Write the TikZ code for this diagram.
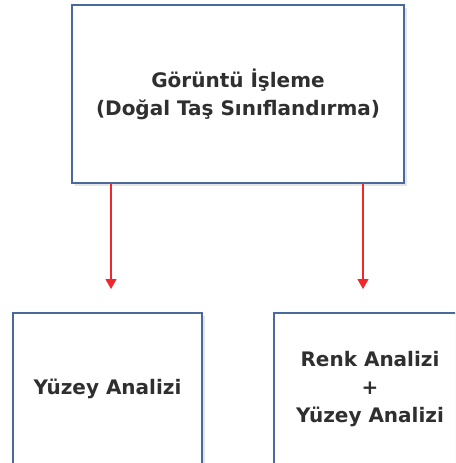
\documentclass[tikz,border=0pt]{standalone}
\usepackage{fontspec}
\setmainfont{DejaVu Sans}
\usetikzlibrary{arrows.meta}
\definecolor{boxblue}{HTML}{4A6A9C}
\definecolor{txt}{HTML}{2F2F2F}
\definecolor{arr}{HTML}{F0282D}
\tikzset{
  box/.style={draw=boxblue, line width=1.4pt, fill=white, inner sep=0pt,
    text=txt, font=\bfseries\fontsize{20}{28}\selectfont, align=center},
  conn/.style={draw=arr, line width=1.2pt, -{Triangle[width=11pt,length=10pt]}}
}
\begin{document}
\begin{tikzpicture}[x=1pt,y=-1pt]
\useasboundingbox (0,0) rectangle (455,463);
\clip (0,0) rectangle (455,463);
\fill[black!10] (75,8) rectangle (407,186);
\node[box, minimum width=332pt, minimum height=178pt] (top) at (238,94)
  {Görüntü İşleme\\(Doğal Taş Sınıflandırma)};
\fill[black!10] (16,316) rectangle (205,470);
\node[box, minimum width=189pt, minimum height=152pt] (left) at (107.5,389)
  {Yüzey Analizi};
\fill[black!10] (277,316) rectangle (470,470);
\node[box, minimum width=192pt, minimum height=152pt] (right) at (370,389)
  {Renk Analizi\\+\\Yüzey Analizi};
\coordinate (la) at (111,289);
\coordinate (ra) at (363,289);
\draw[conn] (top.south -| la) -- (la);
\draw[conn] (top.south -| ra) -- (ra);
\end{tikzpicture}
\end{document}
